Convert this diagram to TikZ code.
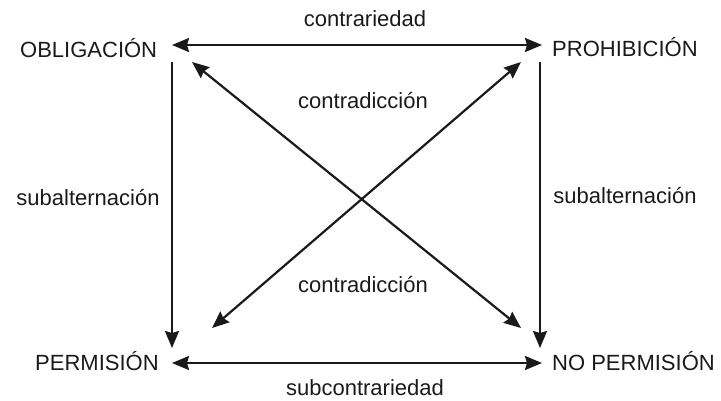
\documentclass[tikz,border=0pt]{standalone}
\usepackage{fontspec}
\setmainfont{Liberation Sans}
\usetikzlibrary{arrows.meta}
\definecolor{ink}{RGB}{26,26,26}
\tikzset{
	term/.style={inner sep=0pt, anchor=base west, text=ink, font=\fontsize{22}{26}\selectfont},
	lbl/.style={inner sep=0pt, anchor=base, text=ink, font=\fontsize{22}{26}\selectfont},
	rel/.style={line width=2.2pt, draw=ink, -{Stealth[length=17pt,width=14pt,inset=2pt]}},
	relboth/.style={rel, {Stealth[length=17pt,width=14pt,inset=2pt]}-{Stealth[length=17pt,width=14pt,inset=2pt]}},
}
\begin{document}
\begin{tikzpicture}[x=1pt, y=-1pt]
	\useasboundingbox (0,0) rectangle (721,400);
	% terms of the square
	\node [term] (obl) at (20,57) {OBLIGACIÓN};
	\node [term] (pro) at (552,56) {PROHIBICIÓN};
	\node [term] (per) at (35,370) {PERMISIÓN};
	\node [term] (nop) at (552,370) {NO PERMISIÓN};
	% arrow ends
	\coordinate (oblH) at (172,45);
	\coordinate (proH) at (542,45);
	\coordinate (perH) at (172,363);
	\coordinate (nopH) at (542,363);
	\coordinate (oblV) at (172,62);
	\coordinate (proV) at (540,62);
	\coordinate (perV) at (172,348);
	\coordinate (nopV) at (540,348);
	\coordinate (oblD) at (192,62);
	\coordinate (proD) at (521,62);
	\coordinate (perD) at (212,328);
	\coordinate (nopD) at (521,328);
	% relations
	\draw [relboth] (oblH) -- (proH);
	\draw [relboth] (perH) -- (nopH);
	\draw [rel] (oblV) -- (perV);
	\draw [rel] (proV) -- (nopV);
	\draw [relboth] (oblD) -- (nopD);
	\draw [relboth] (proD) -- (perD);
	% labels
	\node [lbl] (contr) at (365,26) {contrariedad};
	\node [lbl] (cdtop) at (363,108) {contradicción};
	\node [lbl] (cdbot) at (363,292) {contradicción};
	\node [lbl] (subc) at (365,395) {subcontrariedad};
	\node [lbl] (subl) at (88,205) {subalternación};
	\node [lbl] (subr) at (625,203) {subalternación};
\end{tikzpicture}
\end{document}
